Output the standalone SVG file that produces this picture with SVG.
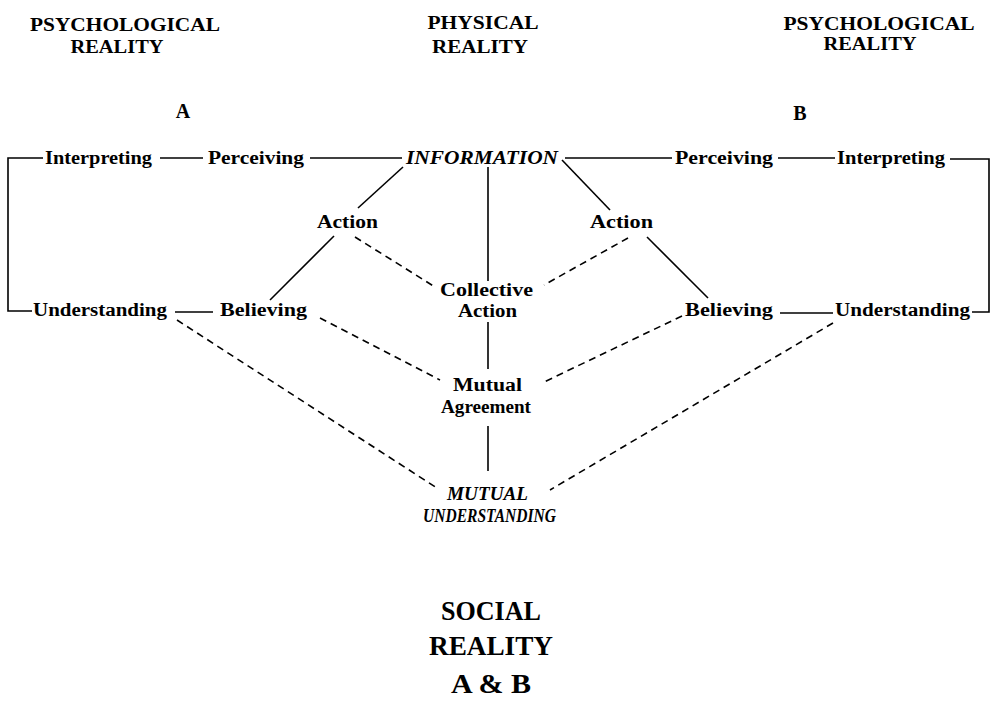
<svg xmlns="http://www.w3.org/2000/svg" width="995" height="709" viewBox="0 0 995 709">
<style>
  text { font-family: "Liberation Serif", "Times New Roman", serif; font-weight: bold; fill: #000; text-anchor: middle; }
  .hd { font-size: 18px; }
  .ab { font-size: 20px; }
  .nd { font-size: 18px; }
  .it { font-style: italic; }
  .big { font-size: 27px; }
  .solid { stroke: #000; stroke-width: 1.6; fill: none; }
  .dash { stroke: #000; stroke-width: 1.6; fill: none; stroke-dasharray: 7 5; }
</style>
<rect width="995" height="709" fill="#fff"/>
<g id="headers">
  <text class="hd" x="125" y="31" textLength="190" lengthAdjust="spacingAndGlyphs">PSYCHOLOGICAL</text>
  <text class="hd" x="117" y="53" textLength="93" lengthAdjust="spacingAndGlyphs">REALITY</text>
  <text class="hd" x="483" y="29" textLength="111" lengthAdjust="spacingAndGlyphs">PHYSICAL</text>
  <text class="hd" x="480" y="53" textLength="96" lengthAdjust="spacingAndGlyphs">REALITY</text>
  <text class="hd" x="879" y="30" textLength="191" lengthAdjust="spacingAndGlyphs">PSYCHOLOGICAL</text>
  <text class="hd" x="870" y="50" textLength="93" lengthAdjust="spacingAndGlyphs">REALITY</text>
  <text class="ab" x="183" y="118">A</text>
  <text class="ab" x="800" y="120">B</text>
</g>
<g id="connectors">
  <polyline class="solid" points="43,158 8,158 8,311 32,311"/>
  <line class="solid" x1="160" y1="158" x2="203" y2="158"/>
  <line class="solid" x1="310" y1="158" x2="402" y2="158"/>
  <line class="solid" x1="565" y1="158" x2="672" y2="158"/>
  <line class="solid" x1="778" y1="158" x2="835" y2="158"/>
  <polyline class="solid" points="950,159 989,159 989,312 972,312"/>
  <line class="solid" x1="175" y1="312" x2="213" y2="312"/>
  <line class="solid" x1="780" y1="313" x2="833" y2="313"/>
  <line class="solid" x1="403" y1="167" x2="358" y2="208"/>
  <line class="solid" x1="562" y1="160" x2="610" y2="210"/>
  <line class="solid" x1="334" y1="236" x2="270" y2="300"/>
  <line class="solid" x1="647" y1="237" x2="708" y2="298"/>
  <line class="solid" x1="488" y1="167" x2="488" y2="281"/>
  <line class="solid" x1="488" y1="322" x2="488" y2="369"/>
  <line class="solid" x1="488" y1="426" x2="488" y2="471"/>
  <line class="dash" x1="355" y1="237" x2="435" y2="287"/>
  <line class="dash" x1="628" y1="238" x2="544" y2="285"/>
  <line class="dash" x1="320" y1="318" x2="440" y2="380"/>
  <line class="dash" x1="682" y1="316" x2="542" y2="383"/>
  <line class="dash" x1="177" y1="320" x2="437" y2="488"/>
  <line class="dash" x1="833" y1="323" x2="550" y2="490"/>
</g>
<g id="interpreting-a"><text class="nd" x="98.5" y="164" textLength="107" lengthAdjust="spacingAndGlyphs">Interpreting</text></g>
<g id="perceiving-a"><text class="nd" x="256" y="164" textLength="96" lengthAdjust="spacingAndGlyphs">Perceiving</text></g>
<g id="information"><text class="nd it" x="482" y="164" textLength="152" lengthAdjust="spacingAndGlyphs">INFORMATION</text></g>
<g id="perceiving-b"><text class="nd" x="724" y="164" textLength="98" lengthAdjust="spacingAndGlyphs">Perceiving</text></g>
<g id="interpreting-b"><text class="nd" x="891" y="164" textLength="108" lengthAdjust="spacingAndGlyphs">Interpreting</text></g>
<g id="action-a"><text class="nd" x="347.5" y="228" textLength="61" lengthAdjust="spacingAndGlyphs">Action</text></g>
<g id="action-b"><text class="nd" x="621.5" y="228" textLength="63" lengthAdjust="spacingAndGlyphs">Action</text></g>
<g id="collective-action">
  <text class="nd" x="486.5" y="296" textLength="93" lengthAdjust="spacingAndGlyphs">Collective</text>
  <text class="nd" x="487.5" y="317" textLength="59" lengthAdjust="spacingAndGlyphs">Action</text>
</g>
<g id="understanding-a"><text class="nd" x="100" y="316" textLength="134" lengthAdjust="spacingAndGlyphs">Understanding</text></g>
<g id="believing-a"><text class="nd" x="263.5" y="316" textLength="87" lengthAdjust="spacingAndGlyphs">Believing</text></g>
<g id="believing-b"><text class="nd" x="729" y="316" textLength="88" lengthAdjust="spacingAndGlyphs">Believing</text></g>
<g id="understanding-b"><text class="nd" x="902.5" y="316" textLength="135" lengthAdjust="spacingAndGlyphs">Understanding</text></g>
<g id="mutual-agreement">
  <text class="nd" x="487.5" y="391" textLength="69" lengthAdjust="spacingAndGlyphs">Mutual</text>
  <text class="nd" x="486" y="413" textLength="90" lengthAdjust="spacingAndGlyphs">Agreement</text>
</g>
<g id="mutual-understanding">
  <text class="nd it" x="487.5" y="500" textLength="81" lengthAdjust="spacingAndGlyphs">MUTUAL</text>
  <text class="nd it" x="489.5" y="522" textLength="133" lengthAdjust="spacingAndGlyphs">UNDERSTANDING</text>
</g>
<g id="social-reality">
  <text class="big" x="491" y="620" textLength="100" lengthAdjust="spacingAndGlyphs">SOCIAL</text>
  <text class="big" x="491" y="655" textLength="124" lengthAdjust="spacingAndGlyphs">REALITY</text>
  <text class="big" x="491" y="693" textLength="80" lengthAdjust="spacingAndGlyphs">A &amp; B</text>
</g>
</svg>
